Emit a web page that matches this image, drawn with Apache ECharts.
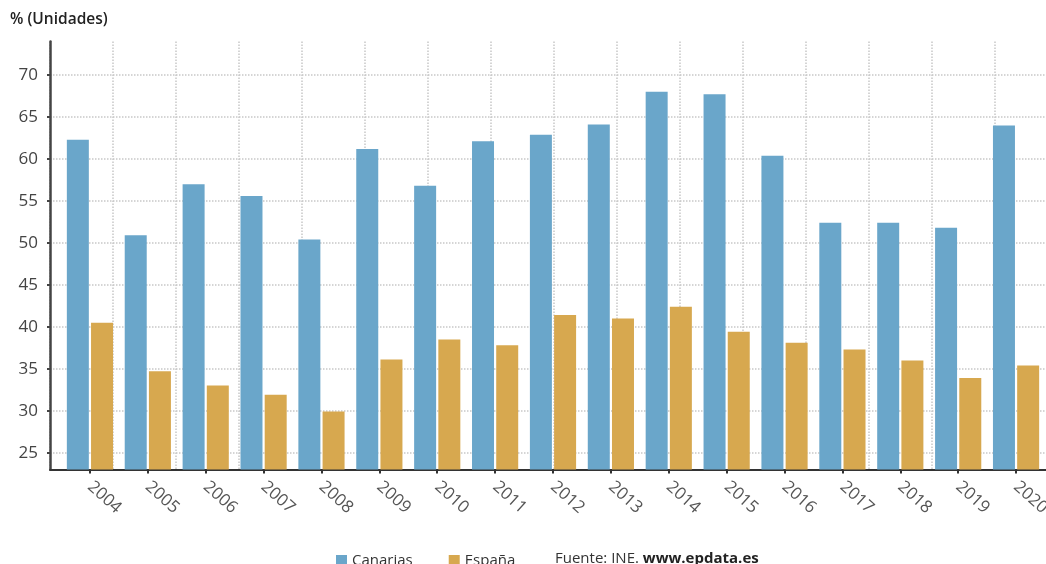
<!DOCTYPE html>
<html>
<head>
<meta charset="utf-8">
<script src="https://cdn.jsdelivr.net/npm/echarts@6/dist/echarts.min.js"></script>
<style>
html,body{margin:0;padding:0;background:#fff;}
#chart{width:1046px;height:564px;}
</style>
</head>
<body>
<div id="chart"></div>
<script>
const years = ['2004','2005','2006','2007','2008','2009','2010','2011','2012','2013','2014','2015','2016','2017','2018','2019','2020'];
const canarias = [62.3, 50.9, 57.0, 55.6, 50.4, 61.2, 56.8, 62.1, 62.9, 64.1, 68.0, 67.7, 60.4, 52.4, 52.4, 51.8, 64.0];
const espana = [40.5, 34.7, 33.0, 31.9, 29.9, 36.1, 38.5, 37.8, 41.4, 41.0, 42.4, 39.4, 38.1, 37.3, 36.0, 33.9, 35.4];
const yMin = 23, yMax = 74;
const tickMin = 25, tickMax = 70, tickStep = 5;
const seriesNames = ['Canarias', 'España'];
const colors = ['#6aa6ca', '#d7a84f'];

const FONT = '"Open Sans", "Noto Sans", sans-serif';
const plotTop = 41.5, plotBottom = 469.5, plotH = plotBottom - plotTop;
const pxPerUnit = plotH / (yMax - yMin);
const yOf = v => plotBottom - (v - yMin) * pxPerUnit;

const chart = echarts.init(document.getElementById('chart'));
chart.setOption({
  animation: false,
  backgroundColor: '#fff',
  grid: [
    {left: 50, width: 996, top: plotTop, height: plotH, outerBoundsMode: 'none', containLabel: false},
    {left: 50, width: 996, top: yOf(tickMax), height: yOf(tickMin) - yOf(tickMax), outerBoundsMode: 'none', containLabel: false},
    {left: 61, width: 984, top: plotTop, height: plotH, outerBoundsMode: 'none', containLabel: false}
  ],
  xAxis: [
    {gridIndex: 0, type: 'value', min: 0, max: 996 / 63, interval: 1,
     axisLine: {show: true, lineStyle: {color: '#333', width: 2}},
     axisTick: {show: false}, axisLabel: {show: false},
     splitLine: {show: true, showMaxLine: false, lineStyle: {color: '#c8c8c8', type: 'dotted', width: 1.5}}},
    {gridIndex: 1, type: 'value', min: 0, max: 1, show: false},
    {gridIndex: 2, type: 'category', data: years,
     axisLine: {show: false},
     axisTick: {show: true, alignWithLabel: true, length: 4, lineStyle: {color: '#333', width: 2}},
     axisLabel: {rotate: -42, margin: 15, fontSize: 17, color: '#555', fontFamily: FONT},
     splitLine: {show: false}}
  ],
  yAxis: [
    {gridIndex: 0, type: 'value', min: yMin, max: yMax,
     axisLine: {show: true, lineStyle: {color: '#444', width: 2.5}},
     axisTick: {show: false}, axisLabel: {show: false}, splitLine: {show: false}},
    {gridIndex: 1, type: 'value', min: tickMin, max: tickMax, interval: tickStep,
     axisLine: {show: false},
     axisTick: {show: true, length: 3, lineStyle: {color: '#444', width: 2}},
     axisLabel: {margin: 12, fontSize: 17, color: '#444', fontFamily: FONT},
     splitLine: {show: true, lineStyle: {color: '#c8c8c8', type: 'dotted', width: 1.5}}},
    {gridIndex: 2, type: 'value', min: yMin, max: yMax, show: false}
  ],
  legend: {
    left: 331, top: 548, itemWidth: 11, itemHeight: 11, itemGap: 36,
    icon: 'rect',
    textStyle: {fontSize: 15, color: '#333', fontFamily: FONT},
    data: seriesNames
  },
  graphic: [
    {type: 'text', left: 10, top: 12,
     style: {text: '% (Unidades)', font: '600 15.5px ' + FONT, fill: '#222'}},
    {type: 'text', left: 555, top: 551,
     style: {text: '{n|Fuente: INE. }{b|www.epdata.es}',
       rich: {n: {fontSize: 15, fontFamily: FONT, fill: '#333', color: '#333'},
              b: {fontSize: 15, fontFamily: FONT, fontWeight: 'bold', fill: '#222', color: '#222'}}}}
  ],
  series: [
    {name: seriesNames[0], type: 'bar', xAxisIndex: 2, yAxisIndex: 2, data: canarias,
     barWidth: 22, barGap: '10%', itemStyle: {color: colors[0]}},
    {name: seriesNames[1], type: 'bar', xAxisIndex: 2, yAxisIndex: 2, data: espana,
     barWidth: 22, barGap: '10%', itemStyle: {color: colors[1]}}
  ]
});
</script>
</body>
</html>
